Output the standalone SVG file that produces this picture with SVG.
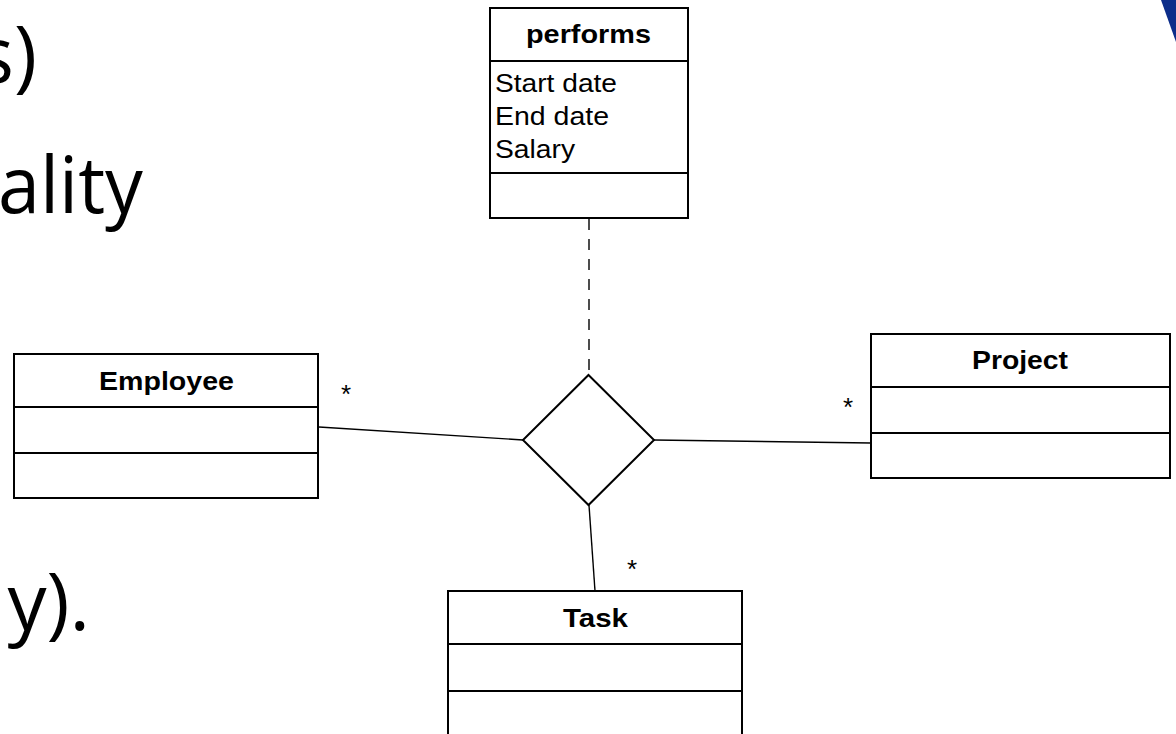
<svg xmlns="http://www.w3.org/2000/svg" width="1176" height="734" viewBox="0 0 1176 734">
  <style>
    .box { fill: #ffffff; stroke: #000000; stroke-width: 2; }
    .sep { stroke: #000000; stroke-width: 2; fill: none; }
    .title { font-family: "Liberation Sans", Arial, sans-serif; font-weight: bold; font-size: 25px; fill: #000000; text-anchor: middle; }
    .attr { font-family: "Liberation Sans", Arial, sans-serif; font-size: 25px; fill: #000000; }
    .mult { font-family: "Liberation Sans", Arial, sans-serif; font-size: 26px; fill: #000000; text-anchor: middle; }
    .edge { stroke: #000000; stroke-width: 1.4; fill: none; }
    .dashed { stroke: #000000; stroke-width: 1.4; fill: none; stroke-dasharray: 11 9; }
    .slide { font-family: "Open Sans", "DejaVu Sans", sans-serif; font-size: 78px; fill: #000000; }
  </style>

  <rect width="1176" height="734" fill="#ffffff"/>

  <!-- slide text running in from the left edge -->
  <g id="slide-text">
    <text class="slide" x="37" y="83" text-anchor="end">s)</text>
    <text class="slide" x="-2" y="213" textLength="145" lengthAdjust="spacingAndGlyphs">ality</text>
    <text class="slide" x="90" y="630" text-anchor="end">y).</text>
  </g>

  <!-- corner decoration -->
  <polygon points="1161,0 1176,0 1176,42" fill="#0c2d8a"/>

  <!-- connectors -->
  <g id="connectors">
    <line class="dashed" x1="589" y1="219" x2="589" y2="375"/>
    <line class="edge" x1="319" y1="427" x2="523" y2="440"/>
    <line class="edge" x1="654" y1="440" x2="871" y2="443"/>
    <line class="edge" x1="589" y1="505" x2="595" y2="591"/>
    <text class="mult" x="346" y="403">*</text>
    <text class="mult" x="848" y="416">*</text>
    <text class="mult" x="632" y="578">*</text>
  </g>

  <!-- association class -->
  <g id="performs">
    <rect class="box" x="490" y="8" width="198" height="210"/>
    <line class="sep" x1="490" y1="61" x2="688" y2="61"/>
    <line class="sep" x1="490" y1="173" x2="688" y2="173"/>
    <text class="title" x="588.5" y="43" textLength="125" lengthAdjust="spacingAndGlyphs">performs</text>
    <text class="attr" x="495" y="92" textLength="122" lengthAdjust="spacingAndGlyphs">Start date</text>
    <text class="attr" x="495" y="125" textLength="114" lengthAdjust="spacingAndGlyphs">End date</text>
    <text class="attr" x="495" y="158" textLength="80" lengthAdjust="spacingAndGlyphs">Salary</text>
  </g>

  <!-- n-ary association diamond -->
  <g id="association">
    <polygon class="box" points="588.5,375 654,440 588.5,505 523,440"/>
  </g>

  <g id="employee">
    <rect class="box" x="14" y="354" width="304" height="144"/>
    <line class="sep" x1="14" y1="407" x2="318" y2="407"/>
    <line class="sep" x1="14" y1="453" x2="318" y2="453"/>
    <text class="title" x="166.5" y="390" textLength="135" lengthAdjust="spacingAndGlyphs">Employee</text>
  </g>

  <g id="project">
    <rect class="box" x="871" y="334" width="299" height="144"/>
    <line class="sep" x1="871" y1="387" x2="1170" y2="387"/>
    <line class="sep" x1="871" y1="433" x2="1170" y2="433"/>
    <text class="title" x="1020" y="369" textLength="96" lengthAdjust="spacingAndGlyphs">Project</text>
  </g>

  <g id="task">
    <rect class="box" x="448" y="591" width="294" height="160"/>
    <line class="sep" x1="448" y1="644" x2="742" y2="644"/>
    <line class="sep" x1="448" y1="691" x2="742" y2="691"/>
    <text class="title" x="595.5" y="627" textLength="65" lengthAdjust="spacingAndGlyphs">Task</text>
  </g>
</svg>
